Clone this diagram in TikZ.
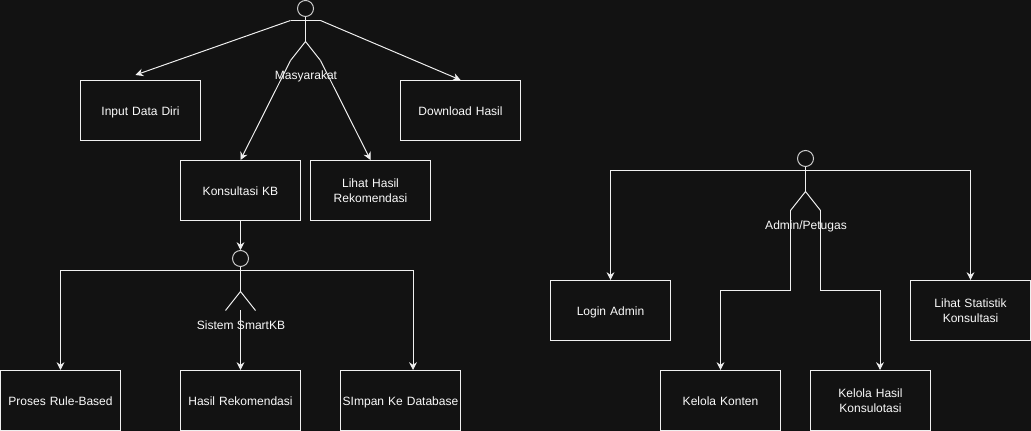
\documentclass[tikz,border=0pt]{standalone}
\usepackage{fontspec}
\setmainfont{Liberation Sans}
\usetikzlibrary{calc,arrows.meta}
\definecolor{bgdark}{HTML}{121212}
\definecolor{linew}{HTML}{F0F0F0}
\definecolor{textw}{HTML}{FAFAFA}
\tikzset{
  struts/.style={execute at begin node={\rule{0pt}{9pt}}, execute at end node={\rule[-2pt]{0pt}{2pt}}},
  box/.style={struts, draw=linew, line width=0.7pt, minimum width=3cm, minimum height=1.5cm, align=center, text width=3cm, inner sep=0pt},
  head/.style={circle, draw=linew!85!black, line width=0.7pt, minimum size=0.4cm, inner sep=0pt},
  limb/.style={draw=linew, line width=0.7pt},
  conn/.style={draw=linew, line width=0.7pt, -{Stealth[length=5.5pt,width=5.5pt]}},
  lab/.style={struts, inner sep=0pt},
  every node/.style={text=textw, font=\fontsize{8.55}{10.6}\selectfont}
}

\begin{document}
\begin{tikzpicture}[x=0.025cm, y=-0.025cm]
  \path[fill=bgdark] (-0.5,-0.5) rectangle (1030.5,430.5);
  \useasboundingbox (-0.5,-0.5) rectangle (1030.5,430.5);

  % boxes
  \node[box] (input) at (140,110) {Input Data Diri};
  \node[box] (download) at (460,110) {Download Hasil};
  \node[box] (konsultasi) at (240,190) {Konsultasi KB};
  \node[box] (lihat) at (370,190) {Lihat Hasil\\Rekomendasi};
  \node[box] (proses) at (60,400) {Proses Rule-Based};
  \node[box] (hasil) at (240,400) {Hasil Rekomendasi};
  \node[box] (simpan) at (400,400) {SImpan Ke Database};
  \node[box] (login) at (610,310) {Login Admin};
  \node[box] (statistik) at (970,310) {Lihat Statistik\\Konsultasi};
  \node[box] (konten) at (720,400) {Kelola Konten};
  \node[box] (kelolahasil) at (870,400) {Kelola Hasil\\Konsulotasi};

  % actor masyarakat
  \node[head] (h1) at (305,8) {};
  \coordinate (h1L) at (290,20);
  \coordinate (h1R) at (320,20);
  \coordinate (h1B) at (305,41);
  \coordinate (h1FL) at (290,60);
  \coordinate (h1FR) at (320,60);
  \draw[limb] (h1.south)--(h1B);
  \draw[limb] (h1L)--(h1R);
  \draw[limb] (h1FL)--(h1B)--(h1FR);
  \node[lab] (l1) at (305.5,74) {Masyarakat};

  % actor sistem
  \node[head] (h2) at (240,258) {};
  \coordinate (h2L) at (225,270);
  \coordinate (h2R) at (255,270);
  \coordinate (h2B) at (240,291);
  \coordinate (h2FL) at (225,310);
  \coordinate (h2FR) at (255,310);
  \coordinate (h2M) at (240,310);
  \draw[limb] (h2.south)--(h2B);
  \draw[limb] (h2L)--(h2R);
  \draw[limb] (h2FL)--(h2B)--(h2FR);
  \node[lab] (l2) at (240.5,324) {Sistem SmartKB};

  % actor admin
  \node[head] (h3) at (805,158) {};
  \coordinate (h3L) at (790,170);
  \coordinate (h3R) at (820,170);
  \coordinate (h3B) at (805,191);
  \coordinate (h3FL) at (790,210);
  \coordinate (h3FR) at (820,210);
  \draw[limb] (h3.south)--(h3B);
  \draw[limb] (h3L)--(h3R);
  \draw[limb] (h3FL)--(h3B)--(h3FR);
  \node[lab] (l3) at (805.5,224) {Admin/Petugas};

  % connectors
  \draw[conn] (h1L)--($(input.north)+(-5,-5)$);
  \draw[conn] (h1R)--(download.north);
  \draw[conn] (h1FL)--(konsultasi.north);
  \draw[conn] (h1FR)--(lihat.north);
  \draw[conn] (konsultasi.south)--(h2.north);
  \draw[conn] (h2L)-|(proses.north);
  \draw[conn] (h2M)--(hasil.north);
  \draw[conn] (h2R)-|($(simpan.north)+(12.5,0)$);
  \draw[conn] (h3L)-|(login.north);
  \draw[conn] (h3R)-|(statistik.north);
  \draw[conn] (h3FL)--++(0,80)-|(konten.north);
  \draw[conn] (h3FR)--++(0,80)-|($(kelolahasil.north)+(9.5,0)$);
\end{tikzpicture}
\end{document}
